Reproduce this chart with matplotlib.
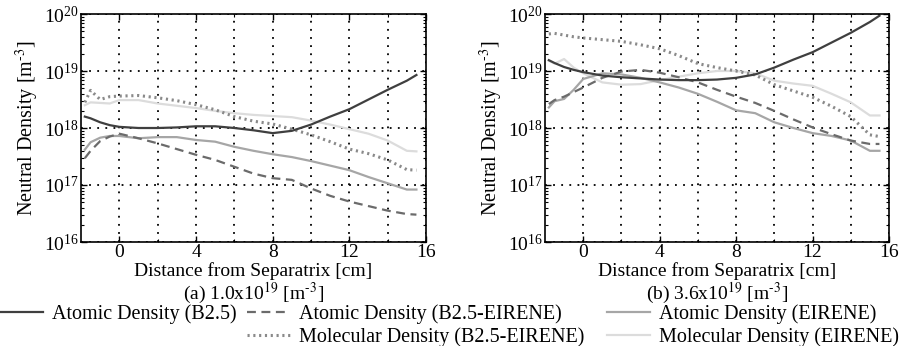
import matplotlib.pyplot as plt
import numpy as np
from matplotlib.lines import Line2D
from matplotlib.ticker import FixedLocator, LogLocator, NullFormatter

plt.rcParams['font.family'] = 'Liberation Serif'
plt.rcParams['mathtext.fontset'] = 'stix'

# distance from separatrix [cm]
x = [-1.8, -1.5, -1, -0.5, 0, 1, 2, 3, 4, 5, 6, 7, 8, 9, 10, 11, 12, 13, 14, 15, 15.5]

# (a) 1.0x10^19 -- log10 of neutral density [m^-3]
a_atom_b25 = [18.2, 18.17, 18.1, 18.05, 18.02, 18.0, 18.0, 18.01, 18.03, 18.03, 18.0,
              17.96, 17.91, 17.95, 18.06, 18.2, 18.33, 18.5, 18.67, 18.83, 18.93]
a_atom_b2e = [17.47, 17.6, 17.77, 17.85, 17.9, 17.82, 17.73, 17.63, 17.53, 17.44, 17.32,
              17.2, 17.12, 17.09, 16.94, 16.81, 16.71, 16.63, 16.55, 16.49, 16.48]
a_atom_eir = [17.62, 17.75, 17.83, 17.86, 17.86, 17.82, 17.84, 17.84, 17.79, 17.76, 17.67,
              17.6, 17.54, 17.49, 17.42, 17.34, 17.26, 17.14, 17.03, 16.92, 16.92]
a_mol_b2e = [18.45, 18.66, 18.5, 18.55, 18.56, 18.57, 18.53, 18.48, 18.41, 18.32, 18.2,
             18.12, 18.07, 17.98, 17.88, 17.76, 17.63, 17.55, 17.44, 17.27, 17.26]
a_mol_eir = [18.4, 18.45, 18.44, 18.43, 18.49, 18.49, 18.43, 18.39, 18.35, 18.3, 18.26,
             18.23, 18.21, 18.19, 18.13, 18.06, 17.98, 17.9, 17.78, 17.6, 17.59]

# (b) 3.6x10^19
b_atom_b25 = [19.19, 19.14, 19.07, 19.02, 18.98, 18.92, 18.89, 18.87, 18.85, 18.84, 18.84,
              18.85, 18.88, 18.94, 19.06, 19.2, 19.33, 19.5, 19.67, 19.86, 19.97]
b_atom_b2e = [18.42, 18.49, 18.55, 18.63, 18.71, 18.88, 18.99, 19.02, 18.97, 18.89, 18.8,
              18.67, 18.55, 18.44, 18.3, 18.15, 18.01, 17.89, 17.78, 17.72, 17.72]
b_atom_eir = [18.36, 18.47, 18.51, 18.67, 18.86, 18.96, 18.94, 18.88, 18.8, 18.71, 18.6,
              18.46, 18.31, 18.26, 18.1, 18.0, 17.91, 17.86, 17.78, 17.6, 17.6]
b_mol_b2e = [19.65, 19.66, 19.63, 19.6, 19.58, 19.55, 19.52, 19.46, 19.39, 19.27, 19.13,
             19.06, 19.0, 18.93, 18.76, 18.65, 18.54, 18.38, 18.2, 17.88, 17.85]
b_mol_eir = [19.18, 19.13, 19.21, 19.06, 18.96, 18.8, 18.76, 18.77, 18.84, 18.9, 18.96,
             19.0, 19.0, 18.96, 18.83, 18.78, 18.74, 18.6, 18.45, 18.22, 18.22]

labels = ['Atomic Density (B2.5)', 'Atomic Density (B2.5-EIRENE)', 'Atomic Density (EIRENE)',
          'Molecular Density (B2.5-EIRENE)', 'Molecular Density (EIRENE)']
captions = [r'(a) 1.0x10$^{19}$ [m$^{\text{-3}}$]', r'(b) 3.6x10$^{19}$ [m$^{\text{-3}}$]']

styles = [dict(color='#3f3f3f', ls='-', lw=1.6),
          dict(color='#6b6b6b', ls=(0, (4, 2.5)), lw=1.6),
          dict(color='#a6a6a6', ls='-', lw=1.6),
          dict(color='#8a8a8a', ls=(0, (0.7, 1.2)), lw=2.2),
          dict(color='#dcdcdc', ls='-', lw=1.6)]

fig = plt.figure(figsize=(9.08, 3.46), dpi=100)
ax1 = fig.add_axes([81/908, 1-242/346, 345/908, 228/346])
ax2 = fig.add_axes([545/908, 1-242/346, 344/908, 228/346])

panels = [(ax1, [a_atom_b25, a_atom_b2e, a_atom_eir, a_mol_b2e, a_mol_eir]),
          (ax2, [b_atom_b25, b_atom_b2e, b_atom_eir, b_mol_b2e, b_mol_eir])]

handles = []
for k, (ax, series) in enumerate(panels):
    hs = []
    # draw light ones first so dark lines sit on top
    for i in [4, 2, 3, 1, 0]:
        h, = ax.plot(x, 10**np.array(series[i]), label=labels[i], **styles[i])
        hs.append((i, h))
    if k == 0:
        handles = [h for i, h in sorted(hs)]
    ax.set_yscale('log')
    ax.set_xlim(-2, 16)
    ax.set_ylim(1e16, 1e20)
    ax.xaxis.set_major_locator(FixedLocator([0, 4, 8, 12, 16]))
    ax.xaxis.set_minor_locator(FixedLocator([2, 6, 10, 14]))
    ax.yaxis.set_major_locator(LogLocator(base=10, numticks=10))
    ax.yaxis.set_minor_locator(LogLocator(base=10, subs=np.arange(2, 10), numticks=20))
    ax.yaxis.set_minor_formatter(NullFormatter())
    ax.grid(True, which='both', axis='x', color='black', ls=(0, (1, 3.5)), lw=1.3)
    ax.grid(True, which='major', axis='y', color='black', ls=(0, (1, 3.5)), lw=1.3)
    ax.tick_params(which='both', direction='in', top=True, right=True, labelsize=14, pad=1.5)
    ax.tick_params(which='major', length=4, width=1)
    ax.tick_params(which='minor', length=2.5, width=0.8)
    for s in ax.spines.values():
        s.set_linewidth(1.2)
    ax.set_ylabel(r'Neutral Density [m$^{\text{-3}}$]', fontsize=14.5, labelpad=2)
    ax.set_xlabel('Distance from Separatrix [cm]', fontsize=14, labelpad=0.5)
    ax.text(0.5, -(293 - 242) / 228, captions[k], transform=ax.transAxes,
            ha='center', va='center', fontsize=14)

blank = Line2D([], [], color='none')
leg_kw = dict(frameon=False, fontsize=14.5, handlelength=2.15, handletextpad=0.45,
              columnspacing=0.5, labelspacing=0.2, borderpad=0, borderaxespad=0,
              loc='upper left')
fig.legend([handles[0], blank, handles[1], handles[3]],
           [labels[0], ' ', labels[1], labels[3]],
           ncol=2, bbox_to_anchor=(0.0, 1 - 304/346), **leg_kw)
fig.legend([handles[2], handles[4]], [labels[2], labels[4]],
           ncol=1, bbox_to_anchor=(607/908, 1 - 304/346), **leg_kw)

fig.savefig('out.png', dpi=100)
